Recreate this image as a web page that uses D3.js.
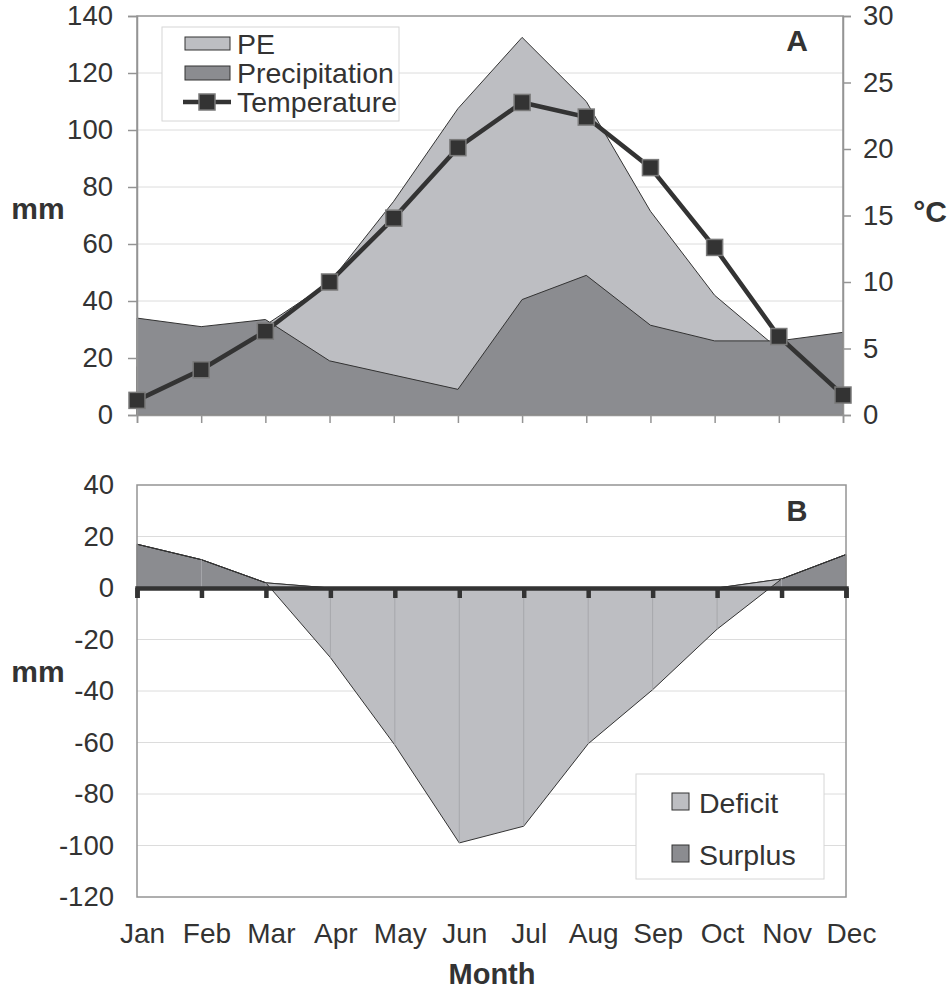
<!DOCTYPE html>
<html>
<head>
<meta charset="utf-8">
<script src="https://cdn.jsdelivr.net/npm/d3@7"></script>
<style>
  body { margin: 0; background: #fff; }
  svg text { font-family: "Liberation Sans", Arial, sans-serif; fill: #333; }
</style>
</head>
<body>
<div id="canvas"></div>
<script>
// monthly water balance
var months = ['Jan', 'Feb', 'Mar', 'Apr', 'May', 'Jun', 'Jul', 'Aug', 'Sep', 'Oct', 'Nov', 'Dec']
var pe = [17, 20, 31.5, 46.5, 75, 107.5, 132.5, 110, 71.5, 42, 23, 16]
var precipitation = [34, 31, 33.5, 19, 14, 9, 40.5, 49, 31.5, 26, 26, 29]
var temperature = [1.1, 3.4, 6.3, 10.0, 14.8, 20.1, 23.5, 22.4, 18.6, 12.6, 5.9, 1.5]
var surplus = [17, 11, 2, 0, 0, 0, 0, 0, 0, 0, 3.5, 13]
var deficit = [0, 0, 0, -27, -61, -99, -92.5, -60.5, -39.5, -16, 0, 0]
var mmTicks = [0, 20, 40, 60, 80, 100, 120, 140]
var degTicks = [0, 5, 10, 15, 20, 25, 30]
var balTicks = [-120, -100, -80, -60, -40, -20, 0, 20, 40]

var light = '#bdbec2'
var dark = '#8b8c90'
var ink = '#333'
var grid = '#dcdcdc'
var frame = '#949494'
var plain = d => String(d)   // hyphen minus like the original

var svg = d3.select('#canvas').append('svg')
    .attr('width', 951)
    .attr('height', 990)

// ---------- chart A ----------
var xA = d3.scalePoint().domain(months).range([137, 843])
var yMM = d3.scaleLinear().domain([0, 140]).range([415, 16])
var yC = d3.scaleLinear().domain([0, 30]).range([415, 16])

var gA = svg.append('g').attr('id', 'chartA')

gA.append('g').selectAll('line')
    .data(mmTicks.slice(1, -1))
    .join('line')
    .attr('x1', 137).attr('x2', 843)
    .attr('y1', d => yMM(d)).attr('y2', d => yMM(d))
    .attr('stroke', grid)

var areaA = function(vals) {
    return d3.area()
        .x((d, i) => xA(months[i]))
        .y0(yMM(0))
        .y1(d => yMM(d))(vals)
}
gA.append('path').attr('d', areaA(pe))
    .attr('fill', light).attr('stroke', ink).attr('stroke-width', 1)
gA.append('path').attr('d', areaA(precipitation))
    .attr('fill', dark).attr('stroke', ink).attr('stroke-width', 1)

gA.append('rect')
    .attr('x', 137).attr('y', 16)
    .attr('width', 843 - 137).attr('height', 415 - 16)
    .attr('fill', 'none').attr('stroke', frame).attr('stroke-width', 1.5)

var leftAxis = gA.append('g')
    .attr('transform', 'translate(137,0)')
    .call(d3.axisLeft(yMM).tickValues(mmTicks).tickFormat(plain).tickSize(9).tickPadding(15))
var rightAxis = gA.append('g')
    .attr('transform', 'translate(843,0)')
    .call(d3.axisRight(yC).tickValues(degTicks).tickFormat(plain).tickSize(8).tickPadding(12))
var monthAxisA = gA.append('g')
    .attr('transform', 'translate(0,415)')
    .call(d3.axisBottom(xA).tickSize(8).tickFormat(''))
;[leftAxis, rightAxis, monthAxisA].forEach(function(ax) {
    ax.select('.domain').attr('stroke', frame).attr('stroke-width', 1.5)
    ax.selectAll('.tick line').attr('stroke', frame).attr('stroke-width', 1.5)
    ax.selectAll('text').attr('font-size', 27.5).attr('fill', ink)
})

var tempLine = d3.line()
    .x((d, i) => xA(months[i]))
    .y(d => yC(d))
gA.append('path').attr('d', tempLine(temperature))
    .attr('fill', 'none').attr('stroke', ink).attr('stroke-width', 4.5)
gA.append('g').selectAll('rect')
    .data(temperature)
    .join('rect')
    .attr('x', (d, i) => xA(months[i]) - 8)
    .attr('y', d => yC(d) - 8)
    .attr('width', 16).attr('height', 16)
    .attr('fill', ink).attr('stroke', '#7a7a7a').attr('stroke-width', 1.5)

// legend A
var legA = gA.append('g')
legA.append('rect')
    .attr('x', 162).attr('y', 27).attr('width', 237).attr('height', 94)
    .attr('fill', '#fff').attr('stroke', '#d6d6d6')
legA.append('rect').attr('x', 185).attr('y', 37).attr('width', 45).attr('height', 13)
    .attr('fill', light).attr('stroke', ink)
legA.append('rect').attr('x', 185).attr('y', 66).attr('width', 45).attr('height', 14)
    .attr('fill', dark).attr('stroke', ink)
legA.append('line').attr('x1', 183).attr('x2', 231).attr('y1', 102).attr('y2', 102)
    .attr('stroke', ink).attr('stroke-width', 4.5)
legA.append('rect').attr('x', 199).attr('y', 94).attr('width', 16).attr('height', 16)
    .attr('fill', ink).attr('stroke', '#7a7a7a').attr('stroke-width', 1.5)
legA.selectAll('text.lbl')
    .data(['PE', 'Precipitation', 'Temperature'])
    .join('text')
    .attr('class', 'lbl')
    .attr('x', 237)
    .attr('y', (d, i) => [44, 73, 102][i])
    .attr('dy', '0.36em')
    .attr('font-size', 28.5)
    .text(d => d)

gA.append('text').attr('x', 797).attr('y', 51)
    .attr('text-anchor', 'middle').attr('font-size', 30).attr('font-weight', 'bold').text('A')
gA.append('text').attr('x', 38).attr('y', 208).attr('dy', '0.36em')
    .attr('text-anchor', 'middle').attr('font-size', 30).attr('font-weight', 'bold').text('mm')
gA.append('text').attr('x', 930).attr('y', 211).attr('dy', '0.36em')
    .attr('text-anchor', 'middle').attr('font-size', 30).attr('font-weight', 'bold').text('°C')

// ---------- chart B ----------
var xB = d3.scalePoint().domain(months).range([137, 846])
var yB = d3.scaleLinear().domain([-120, 40]).range([897, 485])

var gB = svg.append('g').attr('id', 'chartB')

gB.append('g').selectAll('line')
    .data(balTicks.slice(1, -1))
    .join('line')
    .attr('x1', 137).attr('x2', 846)
    .attr('y1', d => yB(d)).attr('y2', d => yB(d))
    .attr('stroke', grid)

// stacked like the original: surplus first, deficit stacked on it
var stackTop = surplus.map((d, i) => d + deficit[i])
var surplusArea = d3.area()
    .x((d, i) => xB(months[i]))
    .y0(yB(0))
    .y1(d => yB(d))
var deficitArea = d3.area()
    .x((d, i) => xB(months[i]))
    .y0((d, i) => yB(surplus[i]))
    .y1(d => yB(d))
gB.append('path').attr('d', surplusArea(surplus))
    .attr('fill', dark).attr('stroke', ink).attr('stroke-width', 1)
gB.append('path').attr('d', deficitArea(stackTop))
    .attr('fill', light).attr('stroke', ink).attr('stroke-width', 1)

// faint seams at each month
gB.append('g').selectAll('line')
    .data(months.slice(1, -1))
    .join('line')
    .attr('x1', d => xB(d)).attr('x2', d => xB(d))
    .attr('y1', (d, i) => yB(Math.max(surplus[i + 1], 0)))
    .attr('y2', (d, i) => yB(stackTop[i + 1] < 0 ? stackTop[i + 1] : 0))
    .attr('stroke', '#a6a7ab').attr('stroke-width', 1)

gB.append('rect')
    .attr('x', 137).attr('y', 485)
    .attr('width', 846 - 137).attr('height', 897 - 485)
    .attr('fill', 'none').attr('stroke', frame).attr('stroke-width', 1.5)

var leftAxisB = gB.append('g')
    .attr('transform', 'translate(137,0)')
    .call(d3.axisLeft(yB).tickValues(balTicks).tickFormat(plain).tickSize(0).tickPadding(23))
leftAxisB.select('.domain').remove()
leftAxisB.selectAll('text').attr('font-size', 27.5).attr('fill', ink)

var zeroAxis = gB.append('g')
    .attr('transform', 'translate(0,' + yB(0) + ')')
    .call(d3.axisBottom(xB).tickSize(10).tickSizeOuter(10).tickFormat(''))
zeroAxis.select('.domain').attr('stroke', ink).attr('stroke-width', 4.5)
zeroAxis.selectAll('.tick line').attr('stroke', ink).attr('stroke-width', 4.5)

var monthLabels = gB.append('g')
    .attr('transform', 'translate(5,897)')
    .call(d3.axisBottom(xB).tickSize(0).tickPadding(26))
monthLabels.select('.domain').remove()
monthLabels.selectAll('text').attr('font-size', 28).attr('fill', ink)

// legend B
var legB = gB.append('g')
legB.append('rect')
    .attr('x', 636).attr('y', 774).attr('width', 188).attr('height', 105)
    .attr('fill', '#fff').attr('stroke', '#d6d6d6')
legB.selectAll('rect.sw')
    .data([light, dark])
    .join('rect')
    .attr('class', 'sw')
    .attr('x', 672).attr('y', (d, i) => [793, 845][i])
    .attr('width', 17).attr('height', 17)
    .attr('fill', d => d).attr('stroke', ink)
legB.selectAll('text.lbl')
    .data(['Deficit', 'Surplus'])
    .join('text')
    .attr('class', 'lbl')
    .attr('x', 699)
    .attr('y', (d, i) => [803, 855][i])
    .attr('dy', '0.36em')
    .attr('font-size', 28.5)
    .text(d => d)

gB.append('text').attr('x', 797).attr('y', 521)
    .attr('text-anchor', 'middle').attr('font-size', 29).attr('font-weight', 'bold').text('B')
gB.append('text').attr('x', 38).attr('y', 671).attr('dy', '0.36em')
    .attr('text-anchor', 'middle').attr('font-size', 30).attr('font-weight', 'bold').text('mm')
gB.append('text').attr('x', 492).attr('y', 984)
    .attr('text-anchor', 'middle').attr('font-size', 29).attr('font-weight', 'bold').text('Month')
</script>
</body>
</html>
